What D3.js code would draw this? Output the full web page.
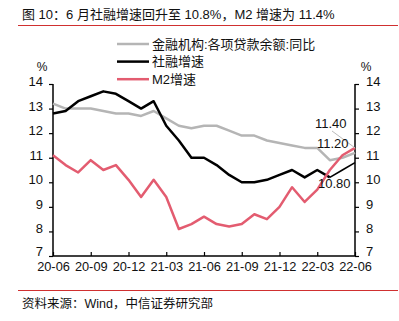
<!DOCTYPE html>
<html><head><meta charset="utf-8">
<script src="https://cdn.jsdelivr.net/npm/d3@7"></script>
<style>
body{margin:0;background:#fff;}
svg{display:block;font-family:"Liberation Sans",Arial,sans-serif;}
.cjk{font-family:"Liberation Sans","Noto Sans CJK SC",sans-serif;}
</style></head><body>
<svg id="c" width="399" height="321"></svg>
<script>
const months = ["20-06","20-07","20-08","20-09","20-10","20-11","20-12","21-01","21-02","21-03","21-04","21-05","21-06","21-07","21-08","21-09","21-10","21-11","21-12","22-01","22-02","22-03","22-04","22-05","22-06"];
const loanGrowth = [13.2,13.0,13.0,13.0,12.9,12.8,12.8,12.7,12.9,12.6,12.3,12.2,12.3,12.3,12.1,11.9,11.9,11.7,11.6,11.5,11.4,11.4,10.9,11.0,11.2];
const tsfGrowth = [12.8,12.9,13.3,13.5,13.7,13.6,13.3,13.0,13.3,12.3,11.7,11.0,11.0,10.7,10.3,10.0,10.0,10.1,10.3,10.5,10.2,10.5,10.2,10.5,10.8];
const m2Growth = [11.1,10.7,10.4,10.9,10.5,10.7,10.1,9.4,10.1,9.4,8.1,8.3,8.6,8.3,8.2,8.3,8.7,8.5,9.0,9.8,9.2,9.7,10.5,11.1,11.4];
const xTickLabels = ["20-06","20-09","20-12","21-03","21-06","21-09","21-12","22-03","22-06"];
const yTicks = [7,8,9,10,11,12,13,14];
const seriesNames = ["金融机构:各项贷款余额:同比","社融增速","M2增速"];
const colors = ["#b5b5b5","#000000","#e35c70"];
const title = "图 10：6 月社融增速回升至 10.8%，M2 增速为 11.4%";
const source = "资料来源：Wind，中信证券研究部";

const svg = d3.select("#c");
const L = 53, R = 355, T = 84, B = 256;
const x = d3.scalePoint().domain(months).range([L, R]);
const y = d3.scaleLinear().domain([7,14]).range([B, T]);

// title & rules
svg.append("text").attr("class","cjk").attr("x",22).attr("y",19).attr("font-size",13).attr("fill","#111").text(title);
svg.append("line").attr("x1",18).attr("x2",398).attr("y1",25.5).attr("y2",25.5).attr("stroke","#d03030").attr("stroke-width",1);
svg.append("line").attr("x1",18).attr("x2",398).attr("y1",290.5).attr("y2",290.5).attr("stroke","#d03030").attr("stroke-width",1);
svg.append("text").attr("class","cjk").attr("x",22).attr("y",308).attr("font-size",12.5).attr("fill","#111").text(source);

// axes
const fmt = d => d;
const gl = svg.append("g").attr("transform",`translate(${L},0)`)
  .call(d3.axisLeft(y).tickValues(yTicks).tickSize(4).tickPadding(6).tickFormat(fmt));
const gr = svg.append("g").attr("transform",`translate(${R},0)`)
  .call(d3.axisRight(y).tickValues(yTicks).tickSize(4).tickPadding(7).tickFormat(fmt));
const gb = svg.append("g").attr("transform",`translate(0,${B})`)
  .call(d3.axisBottom(x).tickValues(xTickLabels).tickSize(-4).tickPadding(6));
[gl,gr,gb].forEach(g=>{
  g.select(".domain").attr("stroke","#000").attr("stroke-width",1.5);
  g.selectAll(".tick line").attr("stroke","#000").attr("stroke-width",1.2);
  g.selectAll(".tick text").attr("font-size",13).attr("fill","#111").attr("font-family","Liberation Sans, Arial, sans-serif");
});
gl.select(".domain").attr("d",`M0,${B}V${T}`);
gr.select(".domain").attr("d",`M0,${B}V${T}`);
gb.select(".domain").attr("d",`M${L},0H${R}`);
gb.selectAll(".tick text").attr("dy","0.71em").attr("font-size",12.8);
gl.selectAll(".tick text").attr("dy","0.12em");
gr.selectAll(".tick text").attr("dy","0.12em");
gl.selectAll(".tick text").filter(d=>d===7).attr("dy","-0.02em");
gr.selectAll(".tick text").filter(d=>d===7).attr("dy","-0.02em");

svg.append("text").attr("x",42).attr("y",71).attr("text-anchor","middle").attr("font-size",12).attr("fill","#111").text("%");
svg.append("text").attr("x",366).attr("y",71).attr("text-anchor","middle").attr("font-size",12).attr("fill","#111").text("%");

// lines
const line = d3.line().x(d=>x(d.m)).y(d=>y(d.v));
const mk = arr => arr.map((v,i)=>({m:months[i],v}));
const loanD = mk(loanGrowth), tsfD = mk(tsfGrowth), m2D = mk(m2Growth);
svg.append("path").datum(loanD).attr("d",line).attr("fill","none").attr("stroke",colors[0]).attr("stroke-width",2.5).attr("stroke-linejoin","round");
svg.append("path").datum(tsfD.slice(0,23)).attr("d",line).attr("fill","none").attr("stroke",colors[1]).attr("stroke-width",2.5).attr("stroke-linejoin","round");
svg.append("path").datum(tsfD.slice(22)).attr("d",line).attr("fill","none").attr("stroke",colors[1]).attr("stroke-width",1.6);
svg.append("path").datum(m2D).attr("d",line).attr("fill","none").attr("stroke",colors[2]).attr("stroke-width",2.5).attr("stroke-linejoin","round");

// annotations
const last = months.length-1;
svg.append("line").attr("x1",332).attr("y1",131).attr("x2",x(months[last])).attr("y2",y(m2Growth[last]))
  .attr("stroke","#bbb").attr("stroke-width",1);
svg.append("text").attr("x",315).attr("y",128).attr("font-size",13).attr("fill","#111").text(m2Growth[last].toFixed(2));
svg.append("text").attr("x",317).attr("y",148).attr("font-size",13).attr("fill","#111").text(loanGrowth[last].toFixed(2));
svg.append("text").attr("x",318).attr("y",188).attr("font-size",13).attr("fill","#111").text(tsfGrowth[last].toFixed(2));

// legend
const lg = svg.append("g");
seriesNames.forEach((n,i)=>{
  const yy = 44 + i*17.6;
  lg.append("line").attr("x1",117).attr("x2",149).attr("y1",yy).attr("y2",yy).attr("stroke",colors[i]).attr("stroke-width",2.5);
  lg.append("text").attr("class","cjk").attr("x",152).attr("y",yy+4.5).attr("font-size",13).attr("fill","#111").text(n);
});
</script></body></html>
